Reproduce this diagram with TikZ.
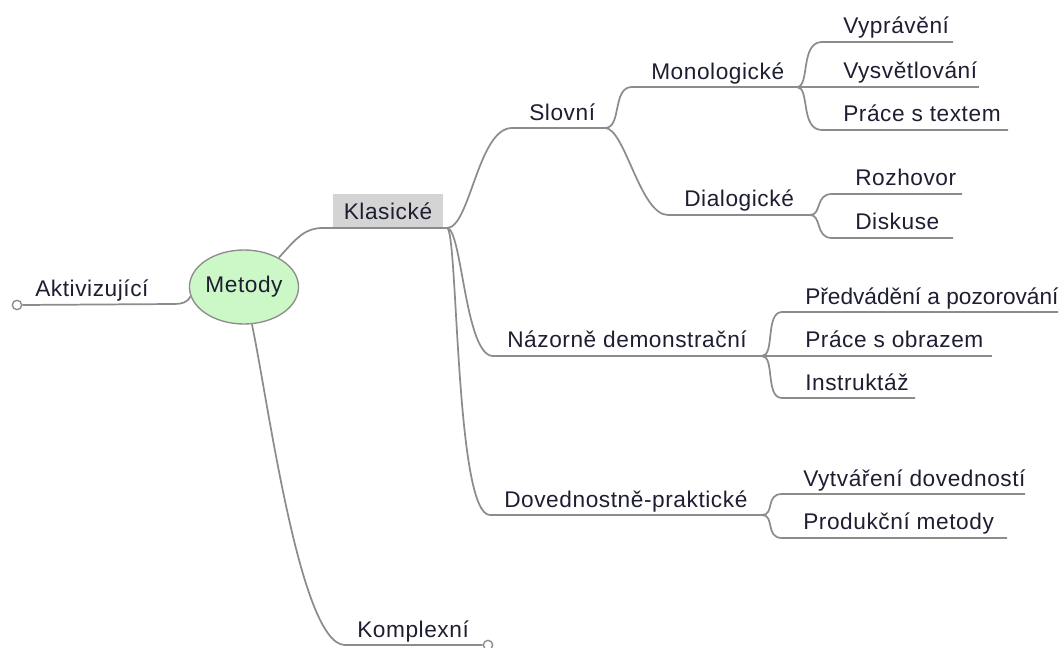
\documentclass[tikz,border=0pt]{standalone}
\usepackage{fontspec}
\setmainfont[LetterSpace=2.5]{Liberation Sans}
\newfontfamily\tightfont{Liberation Sans}
\usetikzlibrary{shapes.geometric}
\definecolor{linegray}{HTML}{8C8C8C}
\definecolor{txt}{HTML}{1E1E32}
\definecolor{mfill}{HTML}{CCF7C6}
\definecolor{kfill}{HTML}{D4D4D4}
\tikzset{
  conn/.style={draw=linegray, line width=1.3pt},
  lbl/.style={anchor=base west, inner sep=0pt, text=txt, font=\fontsize{17}{20}\selectfont},
  endcirc/.style={circle, draw=linegray, fill=white, line width=1pt, minimum size=7pt, inner sep=0pt},
}
\begin{document}
\begin{tikzpicture}[x=0.75pt,y=-0.75pt]
\useasboundingbox (0,0) rectangle (1061,648);
% root
\node[ellipse, draw=linegray, fill=mfill, line width=1pt, minimum width=78pt, minimum height=55.5pt, inner sep=0pt, text=txt, font=\fontsize{17}{20}\selectfont] (met) at (244,287) {Metody};
% Klasicke box
\node[fill=kfill, minimum width=82.5pt, minimum height=26pt, inner sep=0pt, text=txt, font=\fontsize{17}{20}\selectfont] (kl) at (388,211) {Klasické};

% coordinates
\coordinate (akS) at (175,304);
\node[endcirc] (akC) at (17,305) {};
\coordinate (klS) at (323,228);
\coordinate (klE) at (447,228);
\coordinate (slS) at (512,128);
\coordinate (slE) at (605,128);
\coordinate (moS) at (632,87);
\coordinate (moE) at (797,87);
\coordinate (diS) at (668,215);
\coordinate (diE) at (810,215);
\coordinate (vyS) at (822,42);   \coordinate (vyE) at (953,42);
\coordinate (vsS) at (797,87);   \coordinate (vsE) at (979,87);
\coordinate (ptS) at (822,130);  \coordinate (ptE) at (1008,130);
\coordinate (roS) at (832,194);  \coordinate (roE) at (962,194);
\coordinate (dkS) at (832,238);  \coordinate (dkE) at (953,238);
\coordinate (naS) at (493,356);
\coordinate (naE) at (762,356);
\coordinate (pvS) at (782,312);  \coordinate (pvE) at (1058,312);
\coordinate (poS) at (762,356);  \coordinate (poE) at (992,356);
\coordinate (inS) at (782,398);  \coordinate (inE) at (915,398);
\coordinate (doS) at (490,515);
\coordinate (doE) at (762,515);
\coordinate (vdS) at (782,494);  \coordinate (vdE) at (1025,494);
\coordinate (prS) at (782,538);  \coordinate (prE) at (1007,538);
\coordinate (koS) at (345,645);
\node[endcirc] (koC) at (488,645) {};

% connectors
\draw[conn] (met.190) .. controls (188,302) and (182,304) .. (akS) -- (akC.east);
\draw[conn] (met.40) .. controls (298,236) and (306,228) .. (klS) -- (klE);
\draw[conn] (met.-78) .. controls (268,400) and (300,645) .. (koS) -- (koC.west);

\draw[conn] (klE) .. controls (470,228) and (478,128) .. (slS) -- (slE);
\draw[conn] (klE) .. controls (462,228) and (465,356) .. (naS) -- (naE);
\draw[conn] (klE) .. controls (458,228) and (455,515) .. (doS) -- (doE);

\draw[conn] (slE) .. controls (622,128) and (612,87) .. (moS) -- (moE);
\draw[conn] (slE) .. controls (625,128) and (640,215) .. (diS) -- (diE);

\draw[conn] (moE) .. controls (810,87) and (800,42) .. (vyS) -- (vyE);
\draw[conn] (vsS) -- (vsE);
\draw[conn] (moE) .. controls (810,87) and (800,130) .. (ptS) -- (ptE);

\draw[conn] (diE) .. controls (822,215) and (815,194) .. (roS) -- (roE);
\draw[conn] (diE) .. controls (822,215) and (815,238) .. (dkS) -- (dkE);

\draw[conn] (naE) .. controls (775,356) and (765,312) .. (pvS) -- (pvE);
\draw[conn] (poS) -- (poE);
\draw[conn] (naE) .. controls (775,356) and (765,398) .. (inS) -- (inE);

\draw[conn] (doE) .. controls (775,515) and (765,494) .. (vdS) -- (vdE);
\draw[conn] (doE) .. controls (775,515) and (765,538) .. (prS) -- (prE);

% labels
\node[lbl] (ak) at (35,297) {Aktivizující};
\node[lbl] (sl) at (529,121) {Slovní};
\node[lbl] (mo) at (651,80) {Monologické};
\node[lbl] (di) at (684,207) {Dialogické};
\node[lbl] (vy) at (843,34) {Vyprávění};
\node[lbl] (vs) at (843,79) {Vysvětlování};
\node[lbl] (pt) at (843,122) {Práce s textem};
\node[lbl] (ro) at (855,186) {Rozhovor};
\node[lbl] (dk) at (855,230) {Diskuse};
\node[lbl] (na) at (507,348) {Názorně demonstrační};
\node[lbl, font=\tightfont\fontsize{17}{20}\selectfont] (pv) at (805,305) {Předvádění a pozorování};
\node[lbl] (po) at (805,348) {Práce s obrazem};
\node[lbl] (in) at (805,391) {Instruktáž};
\node[lbl] (do) at (504,508) {Dovednostně-praktické};
\node[lbl] (vd) at (803,487) {Vytváření dovedností};
\node[lbl] (pr) at (803,530) {Produkční metody};
\node[lbl] (ko) at (357,638) {Komplexní};
\end{tikzpicture}
\end{document}
